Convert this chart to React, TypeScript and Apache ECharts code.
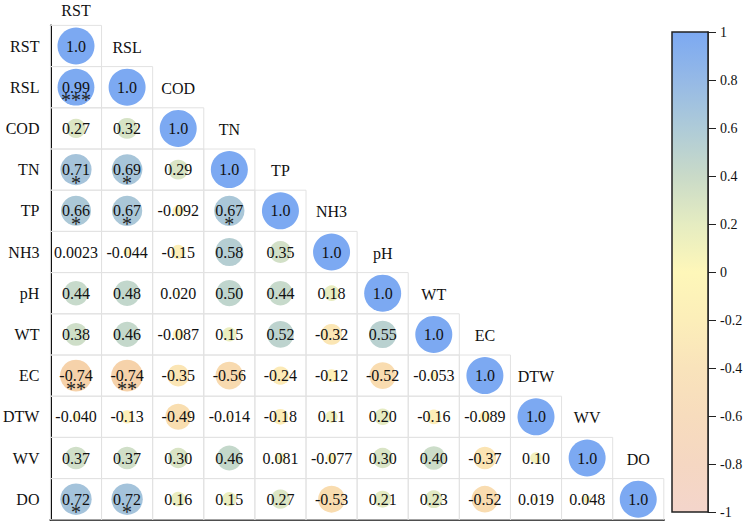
import React, { useEffect, useRef } from "react";
import * as echarts from "echarts";

const variables = ["RST", "RSL", "COD", "TN", "TP", "NH3", "pH", "WT", "EC", "DTW", "WV", "DO"];

// lower triangle correlations, row i has i values (columns 0..i-1); diagonal is 1
const corrRows: number[][] = [
  [],
  [0.99],
  [0.27, 0.32],
  [0.71, 0.69, 0.29],
  [0.66, 0.67, -0.092, 0.67],
  [0.0023, -0.044, -0.15, 0.58, 0.35],
  [0.44, 0.48, 0.02, 0.5, 0.44, 0.18],
  [0.38, 0.46, -0.087, 0.15, 0.52, -0.32, 0.55],
  [-0.74, -0.74, -0.35, -0.56, -0.24, -0.12, -0.52, -0.053],
  [-0.04, -0.13, -0.49, -0.014, -0.18, 0.11, 0.2, -0.16, -0.089],
  [0.37, 0.37, 0.3, 0.46, 0.081, -0.077, 0.3, 0.4, -0.37, 0.1],
  [0.72, 0.72, 0.16, 0.15, 0.27, -0.53, 0.21, 0.23, -0.52, 0.019, 0.048],
];

// significance stars: [row, col, stars]
const stars: [number, number, string][] = [
  [1, 0, "***"],
  [3, 0, "*"],
  [3, 1, "*"],
  [4, 0, "*"],
  [4, 1, "*"],
  [4, 3, "*"],
  [8, 0, "**"],
  [8, 1, "**"],
  [11, 0, "*"],
  [11, 1, "*"],
];

const colorbarTicks = [-1, -0.8, -0.6, -0.4, -0.2, 0, 0.2, 0.4, 0.6, 0.8, 1];
const barPalette = ["#F4D5CB", "#F5D7C2", "#F7DCBD", "#F9E3BB", "#FCEEB9", "#FEF7B9", "#E5ECC1", "#C9DAC8", "#AECBD8", "#95B9E6", "#7CA9F2"];
const circlePalette = ["#F3CBA6", "#F6D2AA", "#F9DDB0", "#FCEAB6", "#FEF6B9", "#DFE8C3", "#BFD5CD", "#A0C0DD", "#7CA9F2"];

const FONT = "Liberation Serif";

export default function App() {
  const ref = useRef<HTMLDivElement>(null);
  useEffect(() => {
    if (!ref.current) return;
    const chart = echarts.init(ref.current, null, { renderer: "svg" });

    const cells: number[][] = [];
    const circles: (number | string)[][] = [];
    for (let i = 0; i < variables.length; i++) {
      for (let j = 0; j <= i; j++) {
        const v = j === i ? 1 : corrRows[i][j];
        cells.push([j, i]);
        circles.push([j, i, v]);
      }
    }
    const headers = variables.slice(1).map((name, k) => [k + 1, k, name]);
    const starData = stars.map(([r, c, s]) => [c, r, s]);

    const fmt = (v: number) => v.toPrecision(2);

    const option: any = {
      animation: false,
      textStyle: { fontFamily: FONT },
      grid: [
        { left: 49.4, top: 25.4, width: 614.4, height: 494.4 },
        { left: 672, top: 32, width: 36, height: 480 },
      ],
      xAxis: [
        {
          type: "category",
          gridIndex: 0,
          data: variables,
          position: "bottom",
          axisLine: { show: true, lineStyle: { color: "#111", width: 2 } },
          axisTick: { show: false },
          axisLabel: { show: false },
          splitLine: { show: false },
        },
        {
          type: "category",
          gridIndex: 0,
          data: variables,
          position: "top",
          axisLine: { show: false },
          axisTick: { show: false },
          axisLabel: {
            show: true,
            margin: 7,
            fontSize: 16,
            color: "#111",
            fontFamily: FONT,
            formatter: (v: string, idx: number) => (idx === 0 ? v : ""),
          },
          splitLine: { show: false },
        },
        {
          type: "category",
          gridIndex: 1,
          data: ["c"],
          show: false,
        },
      ],
      yAxis: [
        {
          type: "category",
          gridIndex: 0,
          data: variables,
          inverse: true,
          axisLine: { show: true, lineStyle: { color: "#111", width: 2 } },
          axisTick: { show: false },
          axisLabel: { show: true, fontSize: 16, color: "#111", margin: 11, fontFamily: FONT },
          splitLine: { show: false },
        },
        {
          type: "value",
          gridIndex: 1,
          position: "right",
          min: -1,
          max: 1,
          interval: 0.2,
          axisLine: { show: true, lineStyle: { color: "#222", width: 1.5 } },
          axisTick: { show: true, length: 8, lineStyle: { color: "#222", width: 1 } },
          axisLabel: {
            show: true,
            fontSize: 14,
            color: "#111",
            margin: 12,
            fontFamily: FONT,
            formatter: (v: number) => String(Math.round(v * 10) / 10),
          },
          splitLine: { show: false },
        },
      ],
      visualMap: {
        show: false,
        type: "continuous",
        seriesIndex: 1,
        dimension: 2,
        min: -1,
        max: 1,
        inRange: { color: circlePalette },
      },
      series: [
        {
          type: "custom",
          xAxisIndex: 0,
          yAxisIndex: 0,
          data: cells,
          silent: true,
          z: 1,
          renderItem: (params: any, api: any) => {
            const c = api.coord([api.value(0), api.value(1)]);
            const s = api.size([1, 1]);
            return {
              type: "rect",
              shape: { x: c[0] - s[0] / 2, y: c[1] - s[1] / 2, width: s[0], height: s[1] },
              style: { fill: "none", stroke: "#E2E2E2", lineWidth: 1 },
            };
          },
        },
        {
          type: "scatter",
          xAxisIndex: 0,
          yAxisIndex: 0,
          data: circles,
          z: 2,
          symbol: "circle",
          symbolSize: (val: number[]) => 37 * Math.sqrt(Math.abs(val[2])),
          itemStyle: { opacity: 1 },
          label: {
            show: true,
            position: "inside",
            fontSize: 16,
            color: "#111",
            fontFamily: FONT,
            formatter: (p: any) => fmt(p.value[2]),
          },
          emphasis: { disabled: true },
        },
        {
          type: "scatter",
          xAxisIndex: 0,
          yAxisIndex: 0,
          data: starData,
          z: 3,
          symbolSize: 0,
          itemStyle: { opacity: 1 },
          label: {
            show: true,
            position: "inside",
            offset: [0, 13],
            fontSize: 20,
            lineHeight: 12,
            color: "#222",
            fontFamily: FONT,
            formatter: (p: any) => p.value[2],
          },
          emphasis: { disabled: true },
        },
        {
          type: "scatter",
          xAxisIndex: 0,
          yAxisIndex: 0,
          data: headers,
          z: 3,
          symbolSize: 0,
          itemStyle: { opacity: 1 },
          label: {
            show: true,
            position: "inside",
            offset: [0, 1],
            fontSize: 16,
            color: "#111",
            fontFamily: FONT,
            formatter: (p: any) => p.value[2],
          },
          emphasis: { disabled: true },
        },
        {
          type: "custom",
          xAxisIndex: 2,
          yAxisIndex: 1,
          data: [[0, 0]],
          silent: true,
          z: 1,
          renderItem: (params: any, api: any) => {
            const top = api.coord([0, 1]);
            const bottom = api.coord([0, -1]);
            const w = api.size([1, 0])[0];
            const stops = colorbarTicks
              .map((t, k) => ({ offset: (1 - t) / 2, color: barPalette[k] }))
              .sort((a, b) => a.offset - b.offset);
            return {
              type: "rect",
              shape: { x: top[0] - w / 2, y: top[1], width: w, height: bottom[1] - top[1] },
              style: {
                fill: new echarts.graphic.LinearGradient(0, 0, 0, 1, stops),
                stroke: "#222",
                lineWidth: 1.5,
              },
            };
          },
        },
      ],
    };
    chart.setOption(option);
    return () => chart.dispose();
  }, []);
  return (
    <div
      ref={ref}
      style={{ position: "fixed", left: 0, top: 0, width: 747, height: 524, background: "#fff" }}
    />
  );
}
